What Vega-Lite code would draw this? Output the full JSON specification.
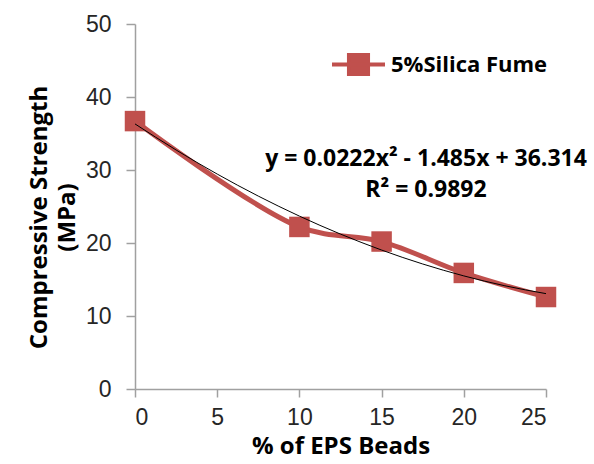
{
  "$schema": "https://vega.github.io/schema/vega-lite/v6.json",
  "width": 411,
  "height": 365,
  "autosize": {"type": "none"},
  "padding": {"left": 135, "top": 24, "right": 48, "bottom": 75},
  "background": "white",
  "config": {"view": {"stroke": null}},
  "datasets": {
    "obs": [
      {"eps": 0, "strength": 36.7, "series": "5%Silica Fume"},
      {"eps": 10, "strength": 22.2, "series": "5%Silica Fume"},
      {"eps": 15, "strength": 20.2, "series": "5%Silica Fume"},
      {"eps": 20, "strength": 15.9, "series": "5%Silica Fume"},
      {"eps": 25, "strength": 12.6, "series": "5%Silica Fume"}
    ],
    "trend": [
      {"eps": 0, "fit": 36.314},
      {"eps": 2.5, "fit": 32.74},
      {"eps": 5, "fit": 29.444},
      {"eps": 7.5, "fit": 26.425},
      {"eps": 10, "fit": 23.684},
      {"eps": 12.5, "fit": 21.22},
      {"eps": 15, "fit": 19.034},
      {"eps": 17.5, "fit": 17.125},
      {"eps": 20, "fit": 15.494},
      {"eps": 22.5, "fit": 14.14},
      {"eps": 25, "fit": 13.064}
    ],
    "labels": [
      {"eps": 17.7, "strength": 31.5, "txt": "y = 0.0222x² - 1.485x + 36.314"},
      {"eps": 17.7, "strength": 27.3, "txt": "R² = 0.9892"}
    ]
  },
  "layer": [
    {
      "data": {"name": "obs"},
      "mark": {"type": "line", "interpolate": "catmull-rom", "strokeWidth": 5},
      "encoding": {
        "x": {
          "field": "eps", "type": "quantitative",
          "scale": {"domain": [0, 25], "nice": false, "zero": false},
          "axis": {
            "values": [0, 5, 10, 15, 20, 25], "grid": false,
            "title": "% of EPS Beads",
            "titleFont": "Open Sans", "titleFontSize": 24, "titleFontWeight": "bold", "titleColor": "#000000",
            "titlePadding": 5,
            "labelFont": "Liberation Sans", "labelFontSize": 23, "labelColor": "#262626", "labelPadding": 9,
            "domainColor": "#a0a0a0", "tickColor": "#a0a0a0", "tickSize": 8, "domainWidth": 1.5, "tickWidth": 1.5
          }
        },
        "y": {
          "field": "strength", "type": "quantitative",
          "scale": {"domain": [0, 50], "nice": false},
          "axis": {
            "values": [0, 10, 20, 30, 40, 50], "grid": false,
            "title": ["Compressive Strength", "(MPa)"],
            "titleFont": "Open Sans", "titleFontSize": 24, "titleFontWeight": "bold", "titleColor": "#000000",
            "titleLineHeight": 28, "titlePadding": 6, "titleY": 193,
            "labelFont": "Liberation Sans", "labelFontSize": 23, "labelColor": "#262626", "labelPadding": 15,
            "domainColor": "#a0a0a0", "tickColor": "#a0a0a0", "tickSize": 9, "domainWidth": 1.5, "tickWidth": 1.5
          }
        },
        "color": {
          "field": "series", "type": "nominal",
          "scale": {"range": ["#C0504D"]},
          "legend": {
            "orient": "none", "legendX": 195, "legendY": 12, "title": null,
            "labelFont": "Open Sans", "labelFontSize": 22, "labelFontWeight": "bold", "labelColor": "#000000",
            "symbolType": "M-1,0H1M-0.36,-0.36H0.36V0.36H-0.36Z",
            "symbolSize": 2809, "symbolStrokeWidth": 4,
            "symbolFillColor": "#C0504D", "symbolStrokeColor": "#C0504D",
            "labelOffset": 4
          }
        }
      }
    },
    {
      "data": {"name": "obs"},
      "mark": {"type": "square", "size": 420, "filled": true, "opacity": 1, "color": "#C0504D"},
      "encoding": {
        "x": {"field": "eps", "type": "quantitative"},
        "y": {"field": "strength", "type": "quantitative"}
      }
    },
    {
      "data": {"name": "trend"},
      "mark": {"type": "line", "interpolate": "monotone", "strokeWidth": 1, "color": "#000000"},
      "encoding": {
        "x": {"field": "eps", "type": "quantitative"},
        "y": {"field": "fit", "type": "quantitative"}
      }
    },
    {
      "data": {"name": "labels"},
      "mark": {"type": "text", "font": "Open Sans", "fontSize": 23, "fontWeight": "bold", "color": "#000000", "align": "center", "baseline": "middle"},
      "encoding": {
        "x": {"field": "eps", "type": "quantitative"},
        "y": {"field": "strength", "type": "quantitative"},
        "text": {"field": "txt"}
      }
    }
  ]
}
